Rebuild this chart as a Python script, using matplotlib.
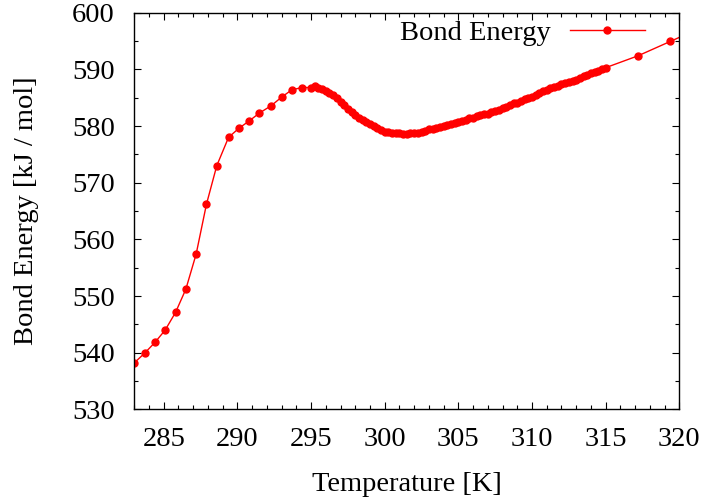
import matplotlib
matplotlib.use("Agg")
import matplotlib.pyplot as plt
from matplotlib.ticker import MultipleLocator

# Bond energy vs temperature
temperature = [
    283.0, 283.7, 284.4, 285.1, 285.8, 286.5, 287.2, 287.9, 288.6, 289.4,
    290.1, 290.8, 291.5, 292.3, 293.0, 293.7, 294.4,
    295.0, 295.25, 295.5, 295.75, 296.0, 296.25, 296.5, 296.75,
    297.0, 297.25, 297.5, 297.75, 298.0, 298.25, 298.5, 298.75,
    299.0, 299.25, 299.5, 299.75, 300.0, 300.25, 300.5, 300.75,
    301.0, 301.25, 301.5, 301.75, 302.0, 302.25, 302.5, 302.75,
    303.0, 303.25, 303.5, 303.75, 304.0, 304.25, 304.5, 304.75,
    305.0, 305.25, 305.5, 305.75, 306.0, 306.25, 306.5, 306.75,
    307.0, 307.25, 307.5, 307.75, 308.0, 308.25, 308.5, 308.75,
    309.0, 309.25, 309.5, 309.75, 310.0, 310.25, 310.5, 310.75,
    311.0, 311.25, 311.5, 311.75, 312.0, 312.25, 312.5, 312.75,
    313.0, 313.25, 313.5, 313.75, 314.0, 314.25, 314.5, 314.75,
    315.0, 317.2, 319.4, 321.6,
]
bond_energy = [
    538.2, 539.9, 541.8, 544.0, 547.1, 551.2, 557.4, 566.2, 573.0, 578.0,
    579.6, 580.9, 582.3, 583.6, 585.1, 586.4, 586.8,
    586.8, 587.0, 586.8, 586.5, 586.2, 585.8, 585.4, 584.9,
    584.3, 583.7, 583.0, 582.5, 582.0, 581.5, 581.1, 580.8,
    580.4, 580.0, 579.6, 579.3, 579.0, 578.9, 578.8, 578.8,
    578.7, 578.6, 578.6, 578.7, 578.7, 578.8, 578.9, 579.1,
    579.4, 579.5, 579.6, 579.8, 580.0, 580.1, 580.3, 580.5,
    580.7, 580.9, 581.1, 581.4, 581.5, 581.7, 581.9, 582.1,
    582.2, 582.4, 582.6, 582.8, 583.1, 583.4, 583.7, 584.0,
    584.1, 584.4, 584.7, 584.9, 585.2, 585.5, 585.8, 586.1,
    586.4, 586.7, 586.9, 587.1, 587.4, 587.6, 587.8, 588.0,
    588.2, 588.5, 588.8, 589.0, 589.3, 589.6, 589.8, 590.0,
    590.3, 592.4, 594.95, 597.5,
]

plt.rcParams['font.family'] = ['Liberation Serif', 'DejaVu Serif']
plt.rcParams['font.size'] = 20.5

fig = plt.figure(figsize=(7.06, 5.01), dpi=100)
ax = fig.add_axes([0.1902, 0.1830, 0.7720, 0.7916])

ax.plot(temperature, bond_energy, color='#ff0000', lw=1.0,
        marker='o', markersize=5, label='Bond Energy')

ax.set_xlim(283, 320)
ax.set_ylim(530, 600)
ax.xaxis.set_major_locator(MultipleLocator(5))
ax.xaxis.set_minor_locator(MultipleLocator(1))
ax.yaxis.set_major_locator(MultipleLocator(10))
ax.yaxis.set_minor_locator(MultipleLocator(5))

ax.tick_params(which='both', direction='in', top=True, right=True, width=0.8)
ax.tick_params(which='major', length=5)
ax.tick_params(which='minor', length=3)
ax.tick_params(axis='x', which='major', pad=13)
ax.tick_params(axis='y', which='major', pad=14)
for s in ax.spines.values():
    s.set_linewidth(1.0)

ax.set_xlabel('Temperature [K]', labelpad=14)
ax.set_ylabel('Bond Energy [kJ / mol]', labelpad=24)

ax.legend(loc='center right', bbox_to_anchor=(0.937, 0.948), frameon=False,
          markerfirst=False, handlelength=2.64, handletextpad=0.67,
          borderpad=0, borderaxespad=0, numpoints=1)

fig.savefig('out.png', dpi=100)
